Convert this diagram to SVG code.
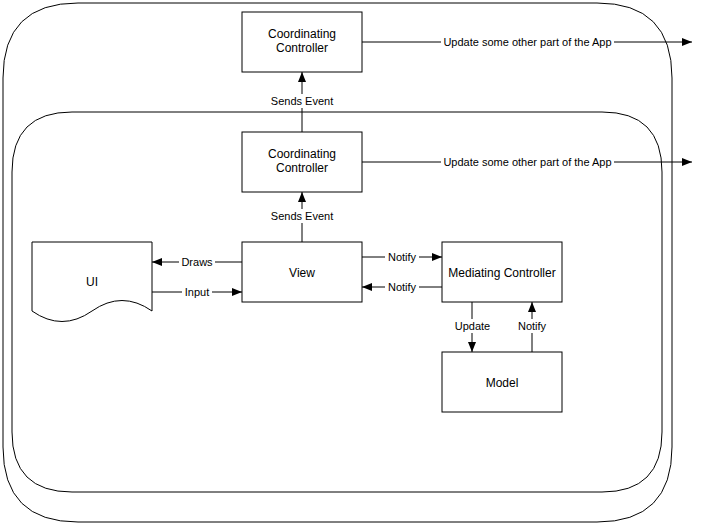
<svg xmlns="http://www.w3.org/2000/svg" width="702" height="524" viewBox="0 0 702 524">
  <style>
    .frame { fill: none; stroke: #000; stroke-width: 1; }
    .box { fill: #fff; stroke: #000; stroke-width: 1; }
    .node-text { font-family: "Liberation Sans", Arial, Helvetica, sans-serif; font-size: 12px; fill: #000; text-anchor: middle; }
    .edge { fill: none; stroke: #000; stroke-width: 1; marker-end: url(#arrow); }
    .edge-label { font-family: "Liberation Sans", Arial, Helvetica, sans-serif; font-size: 11px; fill: #000; text-anchor: middle; }
    .label-bg { fill: #fff; stroke: none; }
  </style>
  <defs>
    <marker id="arrow" viewBox="0 0 10 8" refX="10" refY="4" markerWidth="10" markerHeight="8" orient="auto" markerUnits="userSpaceOnUse">
      <path d="M0,0 L10,4 L0,8 Z" fill="#000"/>
    </marker>
  </defs>
  <rect width="702" height="524" fill="#fff"/>

  <!-- nested application scopes -->
  <g id="outer-scope">
    <path class="frame" d="M78,3 H597 Q672,3 672,78 V447 Q672,522 597,522 H78 Q3,522 3,447 V78 Q3,3 78,3 Z"/>
  </g>
  <g id="inner-scope">
    <path class="frame" d="M72,112 H602 Q662,112 662,172 V432 Q662,492 602,492 H72 Q12,492 12,432 V172 Q12,112 72,112 Z"/>
  </g>

  <!-- connectors -->
  <g id="connectors">
    <path class="edge" d="M362,42 H692"/>
    <rect class="label-bg" x="441" y="35" width="173" height="14"/>
    <text class="edge-label" x="527.5" y="46">Update some other part of the App</text>

    <path class="edge" d="M362,162 H692"/>
    <rect class="label-bg" x="441" y="155" width="173" height="14"/>
    <text class="edge-label" x="527.5" y="166">Update some other part of the App</text>

    <path class="edge" d="M302,132 V72"/>
    <rect class="label-bg" x="268" y="94" width="68" height="14"/>
    <text class="edge-label" x="302" y="105">Sends Event</text>

    <path class="edge" d="M302,242 V192"/>
    <rect class="label-bg" x="268" y="209" width="68" height="14"/>
    <text class="edge-label" x="302" y="220">Sends Event</text>

    <path class="edge" d="M242,262 H152"/>
    <rect class="label-bg" x="179" y="255" width="36" height="14"/>
    <text class="edge-label" x="197" y="265.5">Draws</text>

    <path class="edge" d="M152,292 H242"/>
    <rect class="label-bg" x="182" y="285" width="30" height="14"/>
    <text class="edge-label" x="197" y="295.5">Input</text>

    <path class="edge" d="M362,257 H442"/>
    <rect class="label-bg" x="385" y="250" width="34" height="14"/>
    <text class="edge-label" x="402" y="260.5">Notify</text>

    <path class="edge" d="M442,287 H362"/>
    <rect class="label-bg" x="385" y="280" width="34" height="14"/>
    <text class="edge-label" x="402" y="290.5">Notify</text>

    <path class="edge" d="M472,302 V352"/>
    <rect class="label-bg" x="453" y="319" width="39" height="14"/>
    <text class="edge-label" x="472.5" y="330">Update</text>

    <path class="edge" d="M532,352 V302"/>
    <rect class="label-bg" x="516" y="319" width="32" height="14"/>
    <text class="edge-label" x="532" y="330">Notify</text>
  </g>

  <!-- nodes -->
  <g id="coordinating-controller-outer">
    <rect class="box" x="242" y="12" width="120" height="60"/>
    <text class="node-text" x="302" y="38">Coordinating</text>
    <text class="node-text" x="302" y="52">Controller</text>
  </g>
  <g id="coordinating-controller-inner">
    <rect class="box" x="242" y="132" width="120" height="60"/>
    <text class="node-text" x="302" y="158">Coordinating</text>
    <text class="node-text" x="302" y="172">Controller</text>
  </g>
  <g id="ui">
    <path class="box" d="M32,242 H152 V311 Q122,290 92,311 Q62,332 32,311 Z"/>
    <text class="node-text" x="92" y="286">UI</text>
  </g>
  <g id="view">
    <rect class="box" x="242" y="242" width="120" height="60"/>
    <text class="node-text" x="302" y="276.5">View</text>
  </g>
  <g id="mediating-controller">
    <rect class="box" x="442" y="242" width="120" height="60"/>
    <text class="node-text" x="502" y="276.5">Mediating Controller</text>
  </g>
  <g id="model">
    <rect class="box" x="442" y="352" width="120" height="60"/>
    <text class="node-text" x="502" y="386.5">Model</text>
  </g>
</svg>
